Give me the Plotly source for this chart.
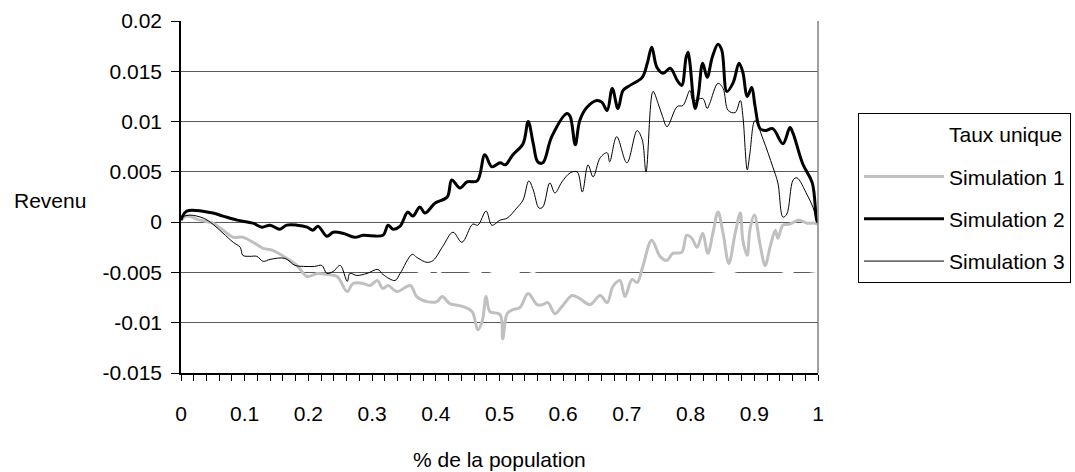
import plotly.graph_objects as go

# ---------------- data ----------------
taux_x = [0.0, 0.30, 0.36, 0.375, 0.39, 0.395, 0.405, 0.42, 0.44, 0.457, 0.47, 0.475, 0.49, 0.50, 0.53,
          0.535, 0.553, 0.58, 0.62, 0.70, 0.80, 0.843, 0.866, 0.90, 0.93, 0.948, 0.96, 0.965, 1.0]
taux_y = [-0.0043, -0.0043, -0.0046, -0.0050, -0.0050, -0.0047, -0.0050, -0.0046, -0.0047, -0.0050,
          -0.0050, -0.0047, -0.0050, -0.0050, -0.0050, -0.0047, -0.0050, -0.0044, -0.0043, -0.0043,
          -0.0045, -0.0050, -0.0050, -0.0044, -0.0046, -0.0050, -0.0050, -0.0047, -0.0050]

sim1_x = [0.000, 0.009, 0.030, 0.050, 0.066, 0.082, 0.097, 0.113, 0.129, 0.144, 0.166, 0.182, 0.198, 0.214,
          0.229, 0.245, 0.261, 0.270, 0.286, 0.297, 0.308, 0.317, 0.325, 0.339, 0.360, 0.370, 0.386, 0.402,
          0.410, 0.422, 0.443, 0.457, 0.466, 0.473, 0.479, 0.485, 0.501, 0.505, 0.512, 0.521, 0.532, 0.545,
          0.559, 0.568, 0.576, 0.587, 0.598, 0.614, 0.626, 0.642, 0.658, 0.669, 0.678, 0.689, 0.697, 0.708,
          0.716, 0.725, 0.739, 0.752, 0.763, 0.772, 0.786, 0.794, 0.802, 0.810, 0.819, 0.827, 0.835, 0.843,
          0.851, 0.860, 0.870, 0.878, 0.882, 0.889, 0.893, 0.900, 0.909, 0.917, 0.925, 0.933, 0.937, 0.945,
          0.956, 0.969, 0.983, 0.995, 1.000]
sim1_y = [0.0002, 0.0006, 0.0002, -0.0001, -0.0008, -0.0015, -0.0015, -0.0020, -0.0026, -0.0028, -0.0036,
          -0.0043, -0.0054, -0.0051, -0.0052, -0.0054, -0.0069, -0.0061, -0.0061, -0.0063, -0.0058, -0.0066,
          -0.0063, -0.0069, -0.0063, -0.0074, -0.0079, -0.0079, -0.0074, -0.0081, -0.0084, -0.0089, -0.0107,
          -0.0098, -0.0074, -0.0089, -0.0092, -0.0116, -0.0091, -0.0087, -0.0085, -0.0071, -0.0082, -0.0082,
          -0.0080, -0.0091, -0.0084, -0.0073, -0.0076, -0.0082, -0.0073, -0.0080, -0.0064, -0.0058, -0.0074,
          -0.0057, -0.0060, -0.0044, -0.0018, -0.0034, -0.0038, -0.0031, -0.0030, -0.0013, -0.0016, -0.0025,
          -0.0011, -0.0031, -0.0011, 0.0010, -0.0011, -0.0041, -0.0011, 0.0009, -0.0018, -0.0033, -0.0008,
          0.0007, -0.0022, -0.0043, -0.0024, -0.0008, -0.0016, -0.0003, -0.0002, 0.0002, -0.0001, -0.0001,
          -0.0002]

sim2_x = [0.000, 0.009, 0.050, 0.066, 0.088, 0.113, 0.127, 0.140, 0.155, 0.166, 0.182, 0.198, 0.207, 0.215,
          0.229, 0.239, 0.254, 0.273, 0.286, 0.317, 0.325, 0.333, 0.344, 0.356, 0.364, 0.375, 0.383, 0.399,
          0.418, 0.425, 0.438, 0.449, 0.465, 0.477, 0.488, 0.501, 0.509, 0.521, 0.537, 0.545, 0.553, 0.560,
          0.568, 0.582, 0.606, 0.611, 0.619, 0.626, 0.637, 0.653, 0.661, 0.669, 0.677, 0.686, 0.694, 0.705,
          0.724, 0.732, 0.739, 0.747, 0.757, 0.768, 0.779, 0.786, 0.793, 0.796, 0.799, 0.807, 0.812, 0.819,
          0.826, 0.834, 0.843, 0.849, 0.857, 0.867, 0.876, 0.882, 0.889, 0.896, 0.901, 0.909, 0.917, 0.929,
          0.945, 0.956, 0.961, 0.976, 0.991, 0.998, 1.000]
sim2_y = [0.0002, 0.0011, 0.0009, 0.0006, 0.0002, -0.0001, -0.0005, -0.0003, -0.0007, -0.0003, -0.0003,
          -0.0005, -0.0008, -0.0004, -0.0014, -0.0010, -0.0011, -0.0015, -0.0013, -0.0013, -0.0003, -0.0007,
          -0.0004, 0.0010, 0.0006, 0.0015, 0.0009, 0.0019, 0.0025, 0.0042, 0.0034, 0.0040, 0.0041, 0.0067,
          0.0055, 0.0059, 0.0057, 0.0067, 0.0078, 0.0100, 0.0078, 0.0060, 0.0059, 0.0085, 0.0108, 0.0105,
          0.0077, 0.0101, 0.0114, 0.0121, 0.0119, 0.0111, 0.0133, 0.0113, 0.0131, 0.0136, 0.0144, 0.0158,
          0.0174, 0.0154, 0.0148, 0.0153, 0.0141, 0.0136, 0.0164, 0.0169, 0.0158, 0.0113, 0.0126, 0.0158,
          0.0144, 0.0164, 0.0177, 0.0171, 0.0130, 0.0139, 0.0158, 0.0149, 0.0125, 0.0134, 0.0116, 0.0093,
          0.0091, 0.0093, 0.0078, 0.0094, 0.0088, 0.0058, 0.0039, 0.0002, 0.0000]

sim3_x = [0.000, 0.014, 0.035, 0.050, 0.066, 0.082, 0.093, 0.097, 0.108, 0.119, 0.129, 0.140, 0.163, 0.179,
          0.192, 0.210, 0.221, 0.229, 0.239, 0.250, 0.261, 0.265, 0.276, 0.292, 0.309, 0.317, 0.336, 0.344,
          0.363, 0.370, 0.386, 0.396, 0.411, 0.427, 0.441, 0.458, 0.466, 0.479, 0.488, 0.501, 0.512, 0.527,
          0.537, 0.546, 0.553, 0.562, 0.568, 0.579, 0.587, 0.598, 0.611, 0.622, 0.630, 0.639, 0.647, 0.658,
          0.669, 0.673, 0.684, 0.700, 0.716, 0.724, 0.730, 0.741, 0.749, 0.756, 0.763, 0.779, 0.788, 0.799,
          0.804, 0.819, 0.826, 0.830, 0.843, 0.851, 0.859, 0.870, 0.878, 0.882, 0.889, 0.893, 0.901, 0.914,
          0.929, 0.937, 0.945, 0.951, 0.961, 0.967, 0.983, 0.992, 0.998, 1.000]
sim3_y = [0.0005, 0.0007, 0.0004, -0.0002, -0.0011, -0.0020, -0.0025, -0.0033, -0.0034, -0.0034, -0.0039,
          -0.0037, -0.0036, -0.0043, -0.0044, -0.0044, -0.0043, -0.0051, -0.0049, -0.0043, -0.0059, -0.0051,
          -0.0053, -0.0051, -0.0047, -0.0052, -0.0058, -0.0051, -0.0032, -0.0035, -0.0040, -0.0038, -0.0024,
          -0.0010, -0.0020, -0.0002, -0.0003, 0.0011, -0.0003, 0.0002, 0.0004, 0.0014, 0.0022, 0.0041, 0.0032,
          0.0014, 0.0015, 0.0039, 0.0029, 0.0040, 0.0049, 0.0050, 0.0030, 0.0057, 0.0045, 0.0064, 0.0069,
          0.0060, 0.0085, 0.0059, 0.0091, 0.0082, 0.0050, 0.0130, 0.0118, 0.0105, 0.0095, 0.0115, 0.0116,
          0.0131, 0.0121, 0.0123, 0.0113, 0.0118, 0.0138, 0.0133, 0.0111, 0.0109, 0.0121, 0.0106, 0.0052,
          0.0068, 0.0101, 0.0082, 0.0055, 0.0039, 0.0005, 0.0008, 0.0042, 0.0044, 0.0027, 0.0015, 0.0002,
          0.0000]

series_names = ["Taux unique", "Simulation 1", "Simulation 2", "Simulation 3"]

y_tickvals = [0.02, 0.015, 0.01, 0.005, 0, -0.005, -0.01, -0.015]
y_ticktext = ["0.02", "0.015", "0.01", "0.005", "0", "-0.005", "-0.01", "-0.015"]
x_tickvals = [0, 0.1, 0.2, 0.3, 0.4, 0.5, 0.6, 0.7, 0.8, 0.9, 1]
x_ticktext = ["0", "0.1", "0.2", "0.3", "0.4", "0.5", "0.6", "0.7", "0.8", "0.9", "1"]

x_title = "% de la population"
y_title = "Revenu"

# ---------------- figure ----------------
FONT = "Liberation Sans"
FS = 21

fig = go.Figure()
styles = [
    dict(color="#FFFFFF", width=1.8, shape="linear"),
    dict(color="#C0C0C0", width=3, shape="spline", smoothing=1.0),
    dict(color="#000000", width=3, shape="spline", smoothing=1.0),
    dict(color="#000000", width=1, shape="spline", smoothing=1.0),
]
for name, xs, ys, st, grp in zip(series_names,
                                  [taux_x, sim1_x, sim2_x, sim3_x],
                                  [taux_y, sim1_y, sim2_y, sim3_y],
                                  styles, ["g0", "g1", "g2", "g3"]):
    fig.add_trace(go.Scatter(x=xs, y=ys, mode="lines", name=name, line=st,
                             legendgroup=grp, hoverinfo="skip"))

fig.update_layout(
    width=1075, height=472,
    margin=dict(l=181, r=257, t=21, b=99, pad=0, autoexpand=False),
    paper_bgcolor="white", plot_bgcolor="white",
    font=dict(family=FONT, size=FS, color="black"),
    showlegend=True,
    legend=dict(x=1.0628, xanchor="left", y=0.7386, yanchor="top",
                bordercolor="black", borderwidth=1, bgcolor="white",
                font=dict(family=FONT, size=FS, color="black"),
                tracegroupgap=12, itemwidth=80, traceorder="grouped"),
    xaxis=dict(range=[0, 1], tickmode="array", tickvals=x_tickvals, ticktext=x_ticktext,
               ticks="outside", ticklen=6, tickcolor="black", tickwidth=1,
               minor=dict(dtick=0.02, tick0=0, ticks="outside", ticklen=6, tickcolor="black", showgrid=False),
               showline=True, linecolor="black", linewidth=1.5,
               showgrid=False, zeroline=False, ticklabelstandoff=15,
               tickfont=dict(family=FONT, size=FS, color="black")),
    yaxis=dict(range=[-0.015, 0.02], tickmode="array", tickvals=y_tickvals, ticktext=y_ticktext,
               ticks="outside", ticklen=8, tickcolor="black", tickwidth=1,
               showline=True, linecolor="black", linewidth=1.5,
               showgrid=True, gridcolor="#5a5a5a", gridwidth=1, zeroline=False,
               ticklabelstandoff=5,
               tickfont=dict(family=FONT, size=FS, color="black")),
    shapes=[dict(type="line", xref="paper", yref="paper", x0=1, x1=1, y0=0, y1=1,
                 line=dict(color="#808080", width=1.5))],
    annotations=[
        dict(text=y_title, xref="paper", yref="paper", x=-0.265, y=0.49,
             xanchor="left", yanchor="middle", showarrow=False,
             font=dict(family=FONT, size=FS, color="black")),
        dict(text=x_title, xref="paper", yref="paper", x=0.5, y=-0.245,
             xanchor="center", yanchor="middle", showarrow=False,
             font=dict(family=FONT, size=FS, color="black")),
    ],
)

fig.write_html("out.html")
